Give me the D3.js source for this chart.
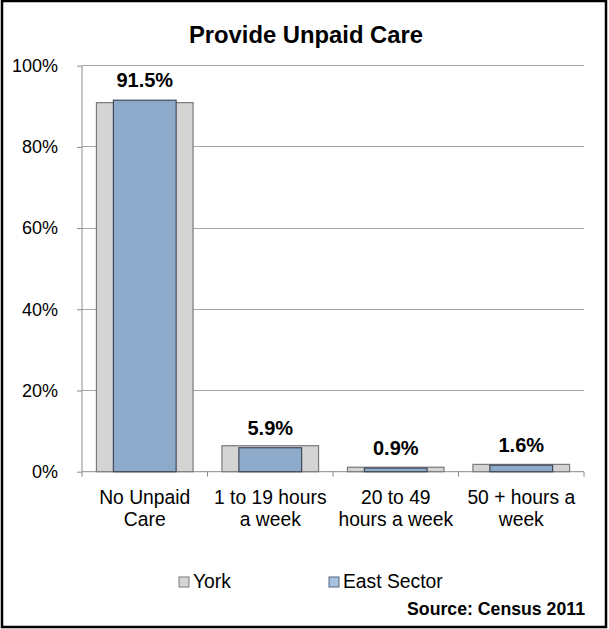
<!DOCTYPE html>
<html><head><meta charset="utf-8">
<script src="https://cdn.jsdelivr.net/npm/d3@7"></script>
<style>body{margin:0;background:#fff}svg{display:block}</style>
</head><body>
<svg id="c" width="609" height="629"></svg>
<script>
const categories = [["No Unpaid","Care"],["1 to 19 hours","a week"],["20 to 49","hours a week"],["50 + hours a","week"]];
const yorkValues = [90.9, 6.4, 1.1, 1.8];
const eastValues = [91.5, 5.9, 0.9, 1.6];
const yTicks = [0,20,40,60,80,100];
const seriesNames = ["York","East Sector"];

const svg = d3.select("#c");
const font = "'Liberation Sans', Arimo, Arial, sans-serif";
svg.append("rect").attr("x",2).attr("y",1).attr("width",604).attr("height",626)
  .attr("fill","#fff").attr("stroke","#000").attr("stroke-width",2.5);

const x0 = 82, x1 = 584, yTop = 65.7, yBot = 471.7;
const x = d3.scaleBand().domain(d3.range(categories.length)).range([x0,x1]).paddingInner(0).paddingOuter(0);
const y = d3.scaleLinear().domain([0,100]).range([yBot,yTop]);

// gridlines
svg.append("g").selectAll("line").data(yTicks.filter(t=>t>0)).join("line")
  .attr("x1",x0).attr("x2",x1).attr("y1",d=>y(d)).attr("y2",d=>y(d))
  .attr("stroke","#a6a6a6").attr("stroke-width",1).attr("shape-rendering","crispEdges");

// y axis
const ya = svg.append("g").attr("transform",`translate(${x0},0)`)
  .call(d3.axisLeft(y).tickValues(yTicks).tickSize(5).tickPadding(19).tickFormat(d=>d+"%"));
ya.select(".domain").attr("stroke","#8c8c8c").attr("d",`M0,${yBot}V${yTop}`);
ya.selectAll(".tick line").attr("stroke","#8c8c8c");
ya.selectAll("text").attr("font-family",font).attr("font-size",18).attr("fill","#000");

// x axis
const xa = svg.append("g").attr("transform",`translate(0,${yBot})`);
xa.append("line").attr("x1",x0).attr("x2",x1).attr("stroke","#8c8c8c");
xa.selectAll("line.t").data(d3.range(categories.length+1)).join("line").attr("class","t")
  .attr("x1",d=>x0+d*x.bandwidth()).attr("x2",d=>x0+d*x.bandwidth()).attr("y1",0).attr("y2",5)
  .attr("stroke","#8c8c8c");
categories.forEach((c,i)=>{
  const t = xa.append("text").attr("text-anchor","middle").attr("font-family",font).attr("font-size",19.3)
    .attr("x",x(i)+x.bandwidth()/2).attr("y",32);
  c.forEach((ln,j)=>t.append("tspan").attr("x",x(i)+x.bandwidth()/2).attr("dy",j?22:0).text(ln));
});

// bars
const yw = x.bandwidth()*0.77, ew = x.bandwidth()*0.5;
svg.append("g").selectAll("rect").data(yorkValues).join("rect")
  .attr("x",(d,i)=>x(i)+x.bandwidth()/2-yw/2).attr("width",yw)
  .attr("y",d=>y(d)).attr("height",d=>yBot-y(d))
  .attr("fill","#d4d4d4").attr("stroke","#7a7a7a").attr("stroke-width",1.2);
svg.append("g").selectAll("rect").data(eastValues).join("rect")
  .attr("x",(d,i)=>x(i)+x.bandwidth()/2-ew/2).attr("width",ew)
  .attr("y",d=>y(d)).attr("height",d=>yBot-y(d))
  .attr("fill","#8eaacb").attr("stroke","#3f4a57").attr("stroke-width",1.2);
svg.append("g").selectAll("text").data(eastValues).join("text")
  .attr("x",(d,i)=>x(i)+x.bandwidth()/2).attr("y",d=>y(d)-13)
  .attr("text-anchor","middle").attr("font-family",font).attr("font-size",20).attr("font-weight","bold")
  .text(d=>d.toFixed(1)+"%");

// title
svg.append("text").attr("x",306).attr("y",43).attr("text-anchor","middle")
  .attr("font-family",font).attr("font-size",23.8).attr("font-weight","bold").text("Provide Unpaid Care");

// legend
const leg = [{n:seriesNames[0],f:"#d4d4d4",s:"#7a7a7a",x:179},{n:seriesNames[1],f:"#a9c1e0",s:"#55647a",x:329}];
leg.forEach(l=>{
  svg.append("rect").attr("x",l.x).attr("y",577).attr("width",10).attr("height",10)
    .attr("fill",l.f).attr("stroke",l.s);
  svg.append("text").attr("x",l.x+14).attr("y",588).attr("font-family",font).attr("font-size",19.3).text(l.n);
});
svg.append("text").attr("x",585).attr("y",615).attr("text-anchor","end")
  .attr("font-family",font).attr("font-size",17.7).attr("font-weight","bold").text("Source: Census 2011");
</script>
</body></html>
